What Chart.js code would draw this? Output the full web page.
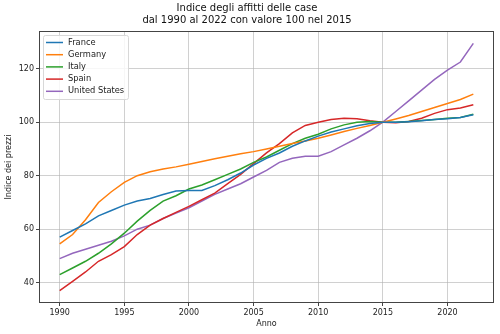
<!DOCTYPE html>
<html>
<head>
<meta charset="utf-8">
<script src="https://cdn.jsdelivr.net/npm/chart.js@4.4.1/dist/chart.umd.min.js"></script>
<style>
  html, body { margin: 0; padding: 0; background: #fff; }
  #wrap { width: 500px; height: 334px; }
</style>
</head>
<body>
<div id="wrap"><canvas id="rentChart"></canvas></div>
<script>
// Data
var years = [1990, 1991, 1992, 1993, 1994, 1995, 1996, 1997, 1998, 1999, 2000,
  2001, 2002, 2003, 2004, 2005, 2006, 2007, 2008, 2009, 2010,
  2011, 2012, 2013, 2014, 2015, 2016, 2017, 2018, 2019, 2020, 2021, 2022];

var france = [57, 59.5, 62, 65, 67, 69, 70.5, 71.5, 73, 74.3, 74.5,
  74.5, 76.3, 78.5, 81, 84, 86.5, 88.5, 91, 93, 94.8,
  96.3, 97.5, 98.7, 99.5, 100, 100, 100.2, 100.5, 101, 101.3, 101.8, 102.8];
var germany = [54.5, 58, 63.5, 70, 74, 77.5, 80, 81.5, 82.5, 83.3, 84.3,
  85.3, 86.3, 87.3, 88.2, 89, 90, 91, 92, 93, 94,
  95.2, 96.5, 97.7, 98.8, 100, 101.2, 102.5, 104, 105.5, 107, 108.5, 110.5];
var italy = [43, 45.5, 48, 51, 54.5, 58.5, 63, 67, 70.5, 72.5, 75,
  76.5, 78.5, 80.5, 82.5, 85, 87, 89.5, 92, 94, 95.5,
  97.5, 99, 100, 100.3, 100, 100, 100.3, 100.6, 101, 101.5, 101.8, 103];
var spain = [37, 40.5, 44, 48, 50.5, 53.5, 58, 61.5, 64, 66.3, 68.5,
  71, 73.5, 77, 80.5, 84.5, 88.5, 92, 96, 98.8, 100,
  101, 101.5, 101.3, 100.5, 100, 99.8, 100.3, 101.5, 103.3, 104.7, 105.3, 106.5];
var unitedStates = [49, 51, 52.5, 54, 55.5, 57.5, 60, 61.5, 64, 66, 68,
  70.5, 73, 75, 77, 79.5, 82, 85, 86.5, 87.3, 87.3,
  89, 91.5, 94, 96.8, 100, 104, 108, 112, 116, 119.5, 122.5, 129.5];

var xTicks = [1990, 1995, 2000, 2005, 2010, 2015, 2020];
var yTicks = [40, 60, 80, 100, 120];

var seriesNames = ["France", "Germany", "Italy", "Spain", "United States"];
var seriesValues = [france, germany, italy, spain, unitedStates];
var seriesColors = ["#1f77b4", "#ff7f0e", "#2ca02c", "#d62728", "#9467bd"];

var FONT = "'DejaVu Sans', sans-serif";

function points(values) {
  return values.map(function (v, i) {
    return { x: years[i], y: v };
  });
}

// Frame round the plot area
var frame = {
  id: "frame",
  afterDraw: function (chart) {
    var a = chart.chartArea, ctx = chart.ctx;
    ctx.save();
    ctx.strokeStyle = "#444";
    ctx.lineWidth = 1;
    ctx.strokeRect(a.left + 0.5, a.top + 0.5, a.right - a.left - 1, a.bottom - a.top - 1);
    ctx.restore();
  },
};

// Legend inside the plot, upper left
var innerLegend = {
  id: "innerLegend",
  afterDraw: function (chart) {
    var a = chart.chartArea, ctx = chart.ctx;
    var x0 = a.left + 4, y0 = a.top + 4, w = 85, h = 64;
    ctx.save();
    ctx.fillStyle = "rgba(255,255,255,0.85)";
    ctx.strokeStyle = "#d8d8d8";
    ctx.lineWidth = 1;
    ctx.beginPath();
    ctx.roundRect(x0 + 0.5, y0 + 0.5, w, h, 2);
    ctx.fill();
    ctx.stroke();
    ctx.font = "8.3px " + FONT;
    ctx.textBaseline = "middle";
    chart.data.datasets.forEach(function (ds, i) {
      var y = y0 + 7.5 + i * 12.2;
      ctx.strokeStyle = ds.borderColor;
      ctx.lineWidth = 1.5;
      ctx.beginPath();
      ctx.moveTo(x0 + 3, y);
      ctx.lineTo(x0 + 20, y);
      ctx.stroke();
      ctx.fillStyle = "#222";
      ctx.fillText(ds.label, x0 + 25, y);
    });
    ctx.restore();
  },
};

var ctx = document.getElementById("rentChart").getContext("2d");
var rentChart = new Chart(ctx, {
  type: "line",
  data: {
    datasets: seriesNames.map(function (name, i) {
      return {
        label: name,
        data: points(seriesValues[i]),
        borderColor: seriesColors[i],
        backgroundColor: seriesColors[i],
        borderWidth: 1.5,
        pointRadius: 0,
        tension: 0,
      };
    }),
  },
  options: {
    responsive: true,
    maintainAspectRatio: false,
    animation: false,
    layout: { padding: { left: 0, right: 6, top: 0, bottom: 5 } },
    plugins: {
      legend: { display: false },
      tooltip: { enabled: false },
      title: {
        display: true,
        text: ["Indice degli affitti delle case", "dal 1990 al 2022 con valore 100 nel 2015"],
        color: "#111",
        font: { family: FONT, size: 10, weight: "normal", lineHeight: 1.2 },
        padding: { top: 2, bottom: 5 },
      },
    },
    scales: {
      x: {
        type: "linear",
        min: 1988.4,
        max: 2023.6,
        afterBuildTicks: function (scale) {
          scale.ticks = xTicks.map(function (v) { return { value: v }; });
        },
        afterFit: function (scale) { scale.height = 26; },
        ticks: {
          color: "#222",
          font: { family: FONT, size: 8 },
          padding: 2,
          maxRotation: 0,
          autoSkip: false,
          callback: function (v) { return String(v); },
        },
        grid: { color: "rgba(176,176,176,0.75)", lineWidth: 0.8, tickLength: 3, tickColor: "#444", tickWidth: 1 },
        border: { display: false },
        title: { display: true, text: "Anno", color: "#222", font: { family: FONT, size: 8 }, padding: { top: 1, bottom: 0 } },
      },
      y: {
        type: "linear",
        min: 32.4,
        max: 134.1,
        afterBuildTicks: function (scale) {
          scale.ticks = yTicks.map(function (v) { return { value: v }; });
        },
        afterFit: function (scale) { scale.width = 39; },
        ticks: {
          color: "#222",
          font: { family: FONT, size: 8 },
          padding: 2,
          callback: function (v) { return String(v); },
        },
        grid: { color: "rgba(176,176,176,0.75)", lineWidth: 0.8, tickLength: 3, tickColor: "#444", tickWidth: 1 },
        border: { display: false },
        title: { display: true, text: "Indice dei prezzi", color: "#222", font: { family: FONT, size: 8 }, padding: { top: 4, bottom: 2 } },
      },
    },
  },
  plugins: [frame, innerLegend],
});
</script>
</body>
</html>
